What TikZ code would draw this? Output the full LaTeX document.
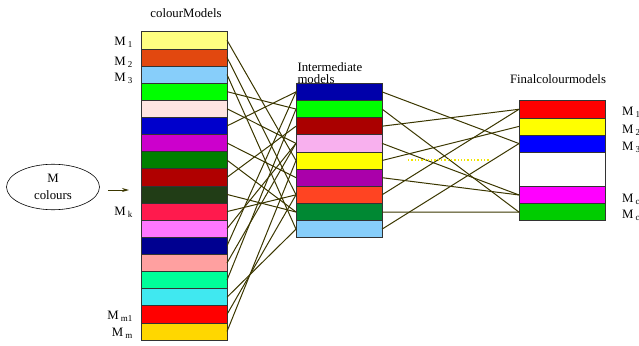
\documentclass[tikz,border=0pt]{standalone}
\usepackage{fontspec}
\setmainfont{Liberation Serif}
\usetikzlibrary{positioning,arrows.meta,shapes.geometric}
\definecolor{linkcol}{HTML}{3B3700}
\definecolor{dotcol}{HTML}{F2E600}

\begin{document}
\begin{tikzpicture}[x=1pt, y=-1pt, font=\fontsize{12.8}{13}\selectfont,
    band/.style={draw=black!80, line width=0.6pt, minimum width=86pt, minimum height=17.15pt, inner sep=0pt, outer sep=0pt},
    link/.style={draw=linkcol, line width=1pt},
    lbl/.style={inner sep=0pt}]
    \useasboundingbox (0,0) rectangle (639,345);

    % colour models (left column)
    \foreach \h [count=\i] in {FFFF80,E2480F,87CEFA,00FF00,FFE4E1,0000CC,CC00CC,008000,B00000,213D16,FF1A4D,FF77FF,000090,FFA0A0,00FF99,40E8F0,FF0000,FFD700} {
        \definecolor{tmp}{HTML}{\h}
        \node[band, fill=tmp] (L\i) at (184, {31.7+17.13*(\i-0.5)}) {};
    }
    \node (ttlL) at (186,13) {colourModels};

    % intermediate models
    \foreach \h [count=\i] in {0000AA,00FF00,AA0000,F8B0EE,FFFF00,AA00AA,FF4422,008833,87CEFA} {
        \definecolor{tmp}{HTML}{\h}
        \node[band, fill=tmp] (M\i) at (339, {83.3+17.16*(\i-0.5)}) {};
    }
    \node[anchor=north west, align=left, font=\fontsize{12.8}{12.5}\selectfont] (ttlM) at (294,59) {Intermediate\\models};

    % final colour models
    \foreach \h/\p/\s [count=\i] in {FF0000/1/1,FFFF00/2/1,0000FF/3/1,FFFFFF/4.5/2,FF00FF/6/1,00CC00/7/1} {
        \definecolor{tmp}{HTML}{\h}
        \node[band, fill=tmp, minimum height=\s*17.14pt] (R\i) at (562, {100.7+17.14*(\p-0.5)}) {};
    }
    \node (ttlR) at (558,79) {Finalcolourmodels};

    % labels
    \node[lbl, anchor=east] (lm1) at (133,42) {M\,\textsubscript{1}};
    \node[lbl, anchor=east] (lm2) at (133,62) {M\,\textsubscript{2}};
    \node[lbl, anchor=east] (lm3) at (133,78) {M\,\textsubscript{3}};
    \node[lbl, anchor=east] (lmk) at (133,212) {M\,\textsubscript{k}};
    \node[lbl, anchor=east] (lmm1) at (133,316) {M\,\textsubscript{m1}};
    \node[lbl, anchor=east] (lmm) at (133,333) {M\,\textsubscript{m}};
    \node[lbl, anchor=west] (rm1) at (622,112) {M\,\textsubscript{1}};
    \node[lbl, anchor=west] (rm2) at (622,130) {M\,\textsubscript{2}};
    \node[lbl, anchor=west] (rm3) at (622,147) {M\,\textsubscript{3}};
    \node[lbl, anchor=west] (rmc1) at (622,199) {M\,\textsubscript{c}};
    \node[lbl, anchor=west] (rmc) at (622,215) {M\,\textsubscript{c}};

    % input
    \node[draw, ellipse, line width=0.6pt, minimum width=93pt, minimum height=44pt, align=center, font=\fontsize{12.8}{17}\selectfont] (mc) at (53,187) {M\\colours};
    \coordinate (tip) at (129,190);
    \draw[link, -{Stealth[length=7pt,width=4pt]}] ([xshift=8pt, yshift=-3pt]mc.east) -- (tip);

    % connections
    \foreach \a/\b in {1/5,2/7,3/9,4/2,5/4,6/1,7/6,8/8,9/3,10/8,11/7,12/4,13/1,14/4,15/2,16/9,17/7,18/5}
        \draw[link] (L\a.east) -- (M\b.west);
    \foreach \a/\b in {1/3,2/6,3/1,4/5,5/2,6/5,7/1,8/6,9/3}
        \draw[link] (M\a.east) -- (R\b.west);

    % dotted gap
    \coordinate (d1) at (408,160);
    \coordinate (d2) at (490,160);
    \draw[dotcol, dotted, line width=1.3pt] (d1) -- (d2);
\end{tikzpicture}
\end{document}
